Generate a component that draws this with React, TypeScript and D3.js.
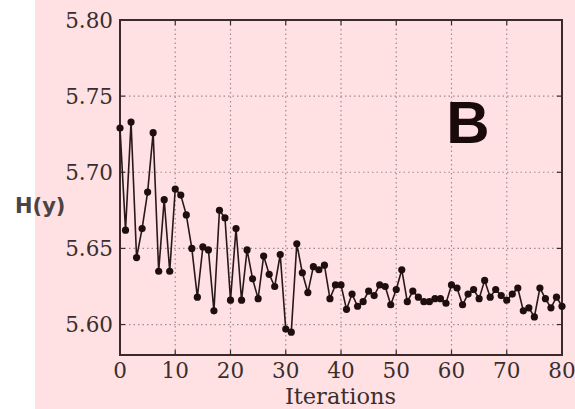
import React from "react";
import * as d3 from "d3";

const iterations: number[] = Array.from({ length: 81 }, (_, i) => i);
const hValues: number[] = [
  5.729, 5.662, 5.733, 5.644, 5.663, 5.687, 5.726, 5.635, 5.682, 5.635,
  5.689, 5.685, 5.672, 5.650, 5.618, 5.651, 5.649, 5.609, 5.675, 5.670,
  5.616, 5.663, 5.616, 5.649, 5.630, 5.617, 5.645, 5.633, 5.625, 5.646,
  5.597, 5.595, 5.653, 5.634, 5.621, 5.638, 5.636, 5.639, 5.617, 5.626,
  5.626, 5.610, 5.620, 5.612, 5.615, 5.622, 5.619, 5.626, 5.625, 5.613,
  5.623, 5.636, 5.615, 5.622, 5.618, 5.615, 5.615, 5.617, 5.617, 5.614,
  5.626, 5.624, 5.613, 5.620, 5.623, 5.617, 5.629, 5.618, 5.623, 5.619,
  5.616, 5.620, 5.624, 5.609, 5.611, 5.605, 5.624, 5.617, 5.611, 5.618,
  5.612,
];
const xTicks: number[] = [0, 10, 20, 30, 40, 50, 60, 70, 80];
const yTicks: number[] = [5.6, 5.65, 5.7, 5.75, 5.8];

const W = 575;
const H = 409;
const left = 120;
const right = 562;
const top = 20;
const bottom = 355;

export default function App() {
  const x = d3.scaleLinear().domain([0, 80]).range([left, right]);
  const y = d3.scaleLinear().domain([5.58, 5.8]).range([bottom, top]);
  const line = d3
    .line<number>()
    .x((_, i) => x(iterations[i]))
    .y((d) => y(d));
  const serif = "'DejaVu Serif', serif";
  const axisColor = "#3a2a2a";
  return (
    <svg
      width={W}
      height={H}
      style={{ position: "absolute", left: 0, top: 0 }}
    >
      <rect x={0} y={0} width={W} height={H} fill="#ffffff" />
      <rect x={35} y={0} width={W - 35} height={H} fill="#ffe1e3" />
      {xTicks.map((t) => (
        <line
          key={"gx" + t}
          x1={x(t)}
          x2={x(t)}
          y1={top}
          y2={bottom}
          stroke="#9a8e8e"
          strokeWidth={1.2}
          strokeDasharray="1.5,3"
        />
      ))}
      {yTicks.map((t) => (
        <line
          key={"gy" + t}
          x1={left}
          x2={right}
          y1={y(t)}
          y2={y(t)}
          stroke="#9a8e8e"
          strokeWidth={1.2}
          strokeDasharray="1.5,3"
        />
      ))}
      {xTicks.map((t) => (
        <g key={"tx" + t}>
          <line x1={x(t)} x2={x(t)} y1={bottom} y2={bottom - 5} stroke={axisColor} strokeWidth={1.2} />
          <line x1={x(t)} x2={x(t)} y1={top} y2={top + 5} stroke={axisColor} strokeWidth={1.2} />
        </g>
      ))}
      {yTicks.map((t) => (
        <g key={"ty" + t}>
          <line x1={left} x2={left + 5} y1={y(t)} y2={y(t)} stroke={axisColor} strokeWidth={1.2} />
          <line x1={right} x2={right - 5} y1={y(t)} y2={y(t)} stroke={axisColor} strokeWidth={1.2} />
        </g>
      ))}
      <rect
        x={left}
        y={top}
        width={right - left}
        height={bottom - top}
        fill="none"
        stroke={axisColor}
        strokeWidth={2}
      />
      <path d={line(hValues) || ""} fill="none" stroke="#2a1818" strokeWidth={1.6} />
      {hValues.map((v, i) => (
        <circle key={"p" + i} cx={x(iterations[i])} cy={y(v)} r={3.6} fill="#1e0e0e" />
      ))}
      {xTicks.map((t) => (
        <text
          key={"lx" + t}
          x={x(t)}
          y={377.5}
          textAnchor="middle"
          fontFamily={serif}
          fontSize={21.5}
          fill="#3a2e2e"
        >
          {t}
        </text>
      ))}
      {yTicks.map((t) => (
        <text
          key={"ly" + t}
          x={113}
          y={y(t) + 7.5}
          textAnchor="end"
          fontFamily={serif}
          fontSize={21.5}
          fill="#3a2e2e"
        >
          {t.toFixed(2)}
        </text>
      ))}
      <text
        x={340.5}
        y={404}
        textAnchor="middle"
        fontFamily={serif}
        fontSize={22.5}
        fill="#3a2e2e"
      >
        Iterations
      </text>
      <text
        x={15}
        y={213}
        fontFamily="'DejaVu Sans', sans-serif"
        fontWeight="bold"
        fontSize={21}
        fill="#4a4444"
      >
        H(y)
      </text>
      <text
        x={468}
        y={143}
        textAnchor="middle"
        fontFamily="'Liberation Sans', Arial, sans-serif"
        fontWeight="bold"
        fontSize={60}
        fill="#1a0a0a"
      >
        B
      </text>
    </svg>
  );
}
